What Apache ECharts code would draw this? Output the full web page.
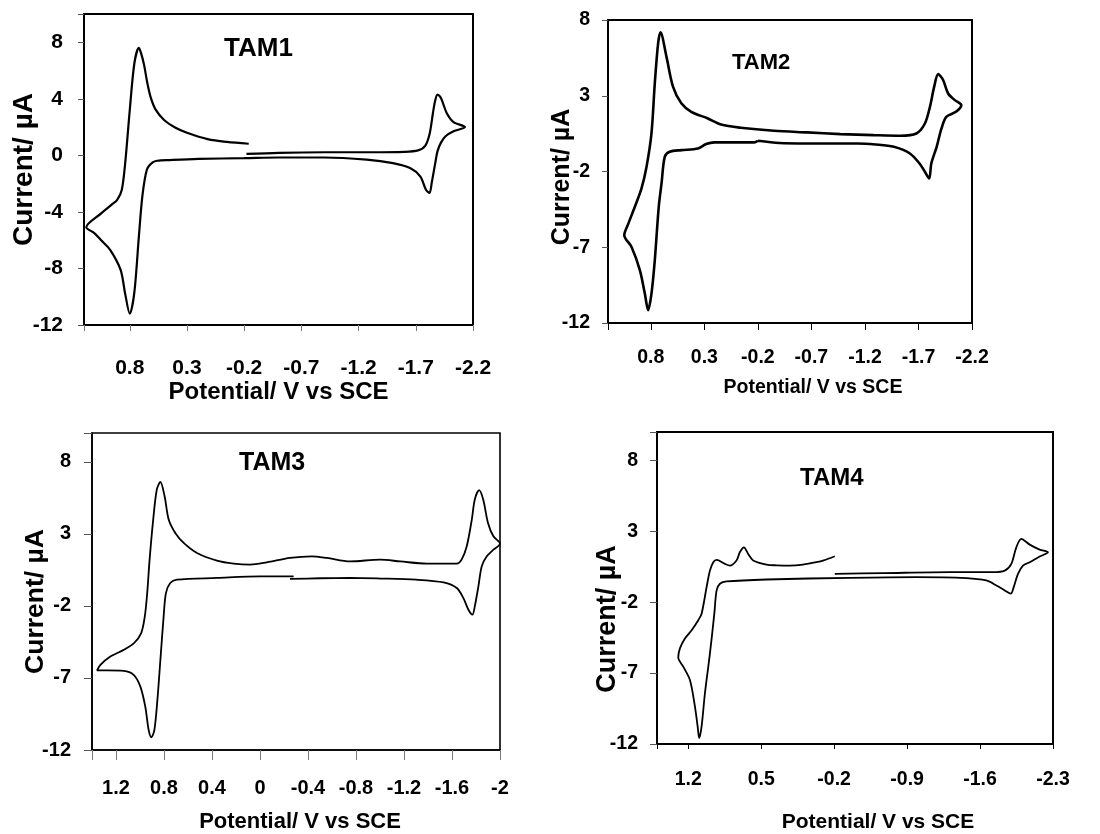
<!DOCTYPE html>
<html><head><meta charset="utf-8">
<script src="https://cdn.jsdelivr.net/npm/echarts@6/dist/echarts.min.js"></script>
<style>html,body{margin:0;padding:0;background:#fff}#c{width:1100px;height:834px}</style>
</head><body><div id="c"></div>
<script>
// ---- data: [potential (V vs SCE), current (µA)] in scan order ----
const tam1 = [[-0.22,0.1],[-0.5,0.18],[-0.9,0.22],[-1.3,0.22],[-1.6,0.25],[-1.72,0.35],[-1.78,0.65],[-1.82,1.5],[-1.85,3.0],[-1.87,3.9],[-1.89,4.3],[-1.92,4.05],[-1.97,3.0],[-2.03,2.35],[-2.13,2.0],[-2.03,1.7],[-1.96,1.35],[-1.92,0.9],[-1.89,0.3],[-1.87,-0.55],[-1.84,-1.9],[-1.82,-2.65],[-1.79,-2.45],[-1.74,-1.5],[-1.65,-0.9],[-1.5,-0.55],[-1.27,-0.3],[-0.9,-0.15],[-0.5,-0.15],[-0.2,-0.2],[0.2,-0.25],[0.45,-0.33],[0.56,-0.38],[0.6,-0.5],[0.65,-1.0],[0.69,-2.9],[0.72,-5.7],[0.76,-9.7],[0.8,-11.2],[0.84,-9.8],[0.88,-8.1],[0.97,-6.7],[1.05,-6.0],[1.11,-5.5],[1.18,-5.08],[1.05,-4.1],[0.96,-3.5],[0.91,-3.15],[0.87,-2.45],[0.84,-0.55],[0.8,3.2],[0.76,6.5],[0.72,7.6],[0.7,7.2],[0.675,6.4],[0.646,5.1],[0.617,4.1],[0.575,3.25],[0.5,2.5],[0.4,1.95],[0.3,1.6],[0.12,1.15],[-0.05,0.95],[-0.24,0.82]];
const tam2 = [[-0.2,0.03],[-0.4,-0.12],[-0.66,-0.15],[-1.13,-0.15],[-1.3,-0.22],[-1.47,-0.37],[-1.62,-0.81],[-1.71,-1.47],[-1.76,-2.02],[-1.8,-2.46],[-1.82,-1.47],[-1.87,-0.37],[-1.915,0.84],[-1.96,1.61],[-2.05,1.94],[-2.1,2.38],[-2.04,2.71],[-1.977,3.15],[-1.93,4.04],[-1.884,4.43],[-1.847,3.6],[-1.807,2.27],[-1.76,1.17],[-1.68,0.51],[-1.53,0.36],[-1.28,0.4],[-0.97,0.47],[-0.66,0.58],[-0.35,0.69],[-0.04,0.89],[0.144,1.1],[0.267,1.5],[0.422,1.94],[0.515,2.5],[0.593,3.6],[0.654,5.58],[0.71,7.19],[0.732,6.46],[0.763,3.81],[0.794,0.51],[0.84,-1.69],[0.887,-3.12],[0.949,-4.33],[1.01,-5.44],[1.048,-6.2],[0.98,-6.98],[0.902,-8.52],[0.856,-10.06],[0.825,-11.16],[0.794,-10.06],[0.763,-7.86],[0.726,-4.33],[0.70,-2.79],[0.67,-1.03],[0.624,-0.7],[0.515,-0.59],[0.36,-0.48],[0.283,-0.19],[0.206,-0.08],[-0.166,-0.08],[-0.2,0.03]];
const tam3 = [[-0.25,-0.13],[-0.5,-0.08],[-0.75,-0.06],[-1.0,-0.1],[-1.3,-0.18],[-1.53,-0.37],[-1.64,-0.76],[-1.695,-1.46],[-1.737,-2.27],[-1.77,-2.61],[-1.79,-2.03],[-1.82,-0.64],[-1.848,0.75],[-1.89,1.44],[-1.945,1.9],[-2.0,2.32],[-1.945,2.83],[-1.9,3.76],[-1.86,5.38],[-1.826,6.03],[-1.79,5.38],[-1.765,3.99],[-1.723,2.14],[-1.68,1.21],[-1.64,0.93],[-1.39,0.93],[-1.168,1.09],[-1.0,1.21],[-0.751,1.09],[-0.557,1.33],[-0.432,1.44],[-0.25,1.33],[-0.057,1.02],[0.081,0.86],[0.22,0.93],[0.359,1.14],[0.525,1.67],[0.636,2.37],[0.706,3.06],[0.761,3.99],[0.795,5.61],[0.83,6.6],[0.86,6.08],[0.89,3.99],[0.92,1.21],[0.94,-1.11],[0.96,-2.73],[0.99,-3.89],[1.05,-4.58],[1.136,-5.05],[1.247,-5.51],[1.33,-6.09],[1.358,-6.48],[1.275,-6.48],[1.136,-6.51],[1.053,-6.79],[0.997,-7.6],[0.956,-8.99],[0.928,-10.6],[0.905,-11.12],[0.88,-10.6],[0.855,-8.52],[0.83,-5.74],[0.803,-2.73],[0.784,-1.11],[0.748,-0.41],[0.692,-0.18],[0.359,-0.06],[0,0.05],[-0.28,0.05]];
const tam4 = [[-0.206,1.24],[-0.1,0.95],[-0.03,0.82],[0.1,0.65],[0.225,0.58],[0.35,0.6],[0.449,0.65],[0.577,0.94],[0.625,1.4],[0.666,1.87],[0.705,1.52],[0.737,0.94],[0.8,0.58],[0.848,0.7],[0.928,0.98],[0.96,0.82],[0.992,0.23],[1.024,-0.94],[1.072,-2.81],[1.104,-3.27],[1.168,-3.98],[1.232,-4.56],[1.28,-5.26],[1.296,-5.9],[1.248,-6.55],[1.184,-7.49],[1.136,-9.36],[1.11,-10.76],[1.095,-11.58],[1.072,-10.76],[1.04,-8.42],[0.992,-5.61],[0.95,-2.81],[0.928,-1.17],[0.896,-0.7],[0.832,-0.54],[0.449,-0.4],[-0.35,-0.28],[-0.99,-0.23],[-1.469,-0.3],[-1.66,-0.47],[-1.757,-0.82],[-1.837,-1.17],[-1.895,-1.4],[-1.923,-0.94],[-1.964,0.0],[-2.012,0.58],[-2.076,0.82],[-2.172,1.22],[-2.252,1.52],[-2.172,1.71],[-2.076,2.06],[-1.996,2.46],[-1.948,1.87],[-1.9,0.7],[-1.837,0.23],[-1.725,0.12],[-1.309,0.12],[-0.67,0.05],[-0.206,0.0]];

// ---- tick labels ----
const tam1XTicks = [0.8,0.3,-0.2,-0.7,-1.2,-1.7,-2.2];
const tam1YTicks = [-12,-8,-4,0,4,8];
const tam2XTicks = [0.8,0.3,-0.2,-0.7,-1.2,-1.7,-2.2];
const tam2YTicks = [-12,-7,-2,3,8];
const tam3XTicks = [1.2,0.8,0.4,0,-0.4,-0.8,-1.2,-1.6,-2];
const tam3YTicks = [-12,-7,-2,3,8];
const tam4XTicks = [1.2,0.5,-0.2,-0.9,-1.6,-2.3];
const tam4YTicks = [-12,-7,-2,3,8];
const panelNames = ['TAM1','TAM2','TAM3','TAM4'];
const xTitle = 'Potential/ V vs SCE';
const yTitle = 'Current/ µA';

const SANS = "'Liberation Sans', Arial, Helvetica, sans-serif";

// layout / style per panel
const panels = [
  {data: tam1, xt: tam1XTicks, yt: tam1YTicks, x:[-2.2,1.2,0.5], y:[-12,10,4],
   grid:{left:84, top:14, width:389, height:311}, lw:2.2, bw:2,
   tick:21, xLM:32.5, yLM:21, xTick:6, yTick:6, xTickColor:'#777',
   xName:{size:24, gap:55, pad:[0,0,0,0]}, yName:{size:28, gap:46, pad:[0,0,0,0]},
   title:{left:224, top:36, size:26}},
  {data: tam2, xt: tam2XTicks, yt: tam2YTicks, x:[-2.2,1.2,0.5], y:[-12,8,5],
   grid:{left:608, top:20, width:364, height:303}, lw:2.6, bw:2,
   tick:19.5, xLM:25, yLM:18, xTick:7, yTick:6, xTickColor:'#000',
   xName:{size:19.5, gap:55, pad:[0,0,0,46]}, yName:{size:25, gap:33.5, pad:[0,11,0,0]},
   title:{left:732, top:52, size:22}},
  {data: tam3, xt: tam3XTicks, yt: tam3YTicks, x:[-2,1.4,0.4], y:[-12,10,5],
   grid:{left:92, top:433, width:408, height:317}, lw:1.8, bw:1.6,
   tick:20, xLM:28, yLM:21, xTick:10, yTick:8, xTickColor:'#777',
   xName:{size:22, gap:61, pad:[0,0,0,8]}, yName:{size:26.5, gap:43, pad:[0,20,0,0]},
   title:{left:239, top:451, size:25}},
  {data: tam4, xt: tam4XTicks, yt: tam4YTicks, x:[-2.3,1.5,0.7], y:[-12,10,5],
   grid:{left:657, top:432, width:396, height:312}, lw:1.8, bw:2,
   tick:19.5, xLM:26, yLM:19, xTick:5, yTick:7, xTickColor:'#000',
   xName:{size:21, gap:67.5, pad:[0,0,0,46]}, yName:{size:27, gap:36, pad:[0,62,0,0]},
   title:{left:800, top:466, size:24}}
];

function tickFormatter(ticks){
  return function(v){
    const t = ticks.find(t => Math.abs(t - v) < 1e-6);
    return t === undefined ? '' : String(t);
  };
}

const option = {
  animation:false,
  backgroundColor:'#fff',
  title: panels.map((p,i)=>({text: panelNames[i], left:p.title.left, top:p.title.top, padding:0,
    textStyle:{fontFamily:SANS, fontWeight:'bold', fontSize:p.title.size, color:'#000'}})),
  grid: panels.map(p=>Object.assign({show:true, borderColor:'#000', borderWidth:p.bw, backgroundColor:'transparent'}, p.grid)),
  xAxis: panels.map((p,i)=>({
    type:'value', gridIndex:i, inverse:true, min:p.x[0], max:p.x[1], interval:p.x[2],
    name:xTitle, nameLocation:'middle', nameGap:p.xName.gap, nameMoveOverlap:false,
    nameTextStyle:{fontFamily:SANS, fontWeight:'bold', fontSize:p.xName.size, color:'#000', padding:p.xName.pad},
    axisLine:{show:true, onZero:false, lineStyle:{color:'#000', width:p.bw}},
    axisTick:{show:true, length:p.xTick, lineStyle:{color:p.xTickColor, width:1}},
    splitLine:{show:false},
    axisLabel:{margin:p.xLM, color:'#000', fontFamily:SANS, fontSize:p.tick, fontWeight:'bold',
      formatter:tickFormatter(p.xt), showMinLabel:true, showMaxLabel:true, hideOverlap:false}
  })),
  yAxis: panels.map((p,i)=>({
    type:'value', gridIndex:i, min:p.y[0], max:p.y[1], interval:p.y[2],
    name:yTitle, nameLocation:'middle', nameGap:p.yName.gap, nameRotate:90, nameMoveOverlap:false,
    nameTextStyle:{fontFamily:SANS, fontWeight:'bold', fontSize:p.yName.size, color:'#000', padding:p.yName.pad},
    axisLine:{show:true, onZero:false, lineStyle:{color:'#000', width:p.bw}},
    axisTick:{show:true, length:p.yTick, lineStyle:{color:'#555', width:1}},
    splitLine:{show:false},
    axisLabel:{margin:p.yLM, color:'#000', fontFamily:SANS, fontSize:p.tick, fontWeight:'bold',
      formatter:tickFormatter(p.yt), showMinLabel:true, showMaxLabel:true}
  })),
  series: panels.map((p,i)=>({
    type:'line', xAxisIndex:i, yAxisIndex:i, data:p.data, showSymbol:false, symbol:'none',
    smooth:0.3, lineStyle:{color:'#000', width:p.lw}, silent:true
  }))
};

const chart = echarts.init(document.getElementById('c'), null, {renderer:'canvas'});
chart.setOption(option);
</script>
</body></html>
